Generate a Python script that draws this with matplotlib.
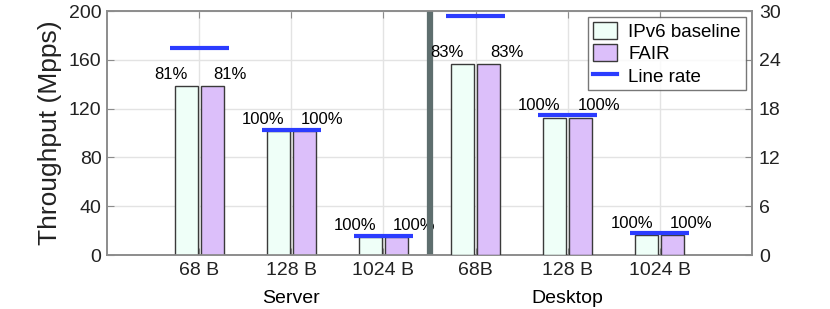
import matplotlib
matplotlib.use("Agg")
from matplotlib import pyplot as plt
from matplotlib.lines import Line2D
from matplotlib.patches import Patch
import numpy as np

plt.rcParams['font.family'] = ['Liberation Sans', 'DejaVu Sans']

# data
server_labels = ['68 B', '128 B', '1024 B']
desktop_labels = ['68B', '128 B', '1024 B']
server_baseline = [138.5, 101.5, 14.5]
server_fair = [138.5, 101.5, 14.5]
server_line_rate = [169.5, 102.7, 15.8]
server_pct = ['81%', '100%', '100%']
desktop_baseline = [23.5, 16.9, 2.45]
desktop_fair = [23.5, 16.9, 2.45]
desktop_line_rate = [29.4, 17.2, 2.7]
desktop_pct = ['83%', '100%', '100%']

c_base = '#effff8'
c_fair = '#dcbffa'
c_line = '#2b3cff'
c_edge = '#3a3a3a'
c_spine = '#8c8c8c'

fig = plt.figure(figsize=(8.3, 3.09), dpi=100)
ax = fig.add_axes([107 / 830, 1 - 255 / 309, 645 / 830, 244 / 309])
ax2 = ax.twinx()

x_server = np.arange(1, 4)
x_desktop = np.arange(4, 7)
w = 0.25
off = 0.14


def draw_group(a, xs, base, fair, rate, pct):
    a.bar(xs - off, base, w, color=c_base, edgecolor=c_edge, linewidth=1, zorder=3)
    a.bar(xs + off, fair, w, color=c_fair, edgecolor=c_edge, linewidth=1, zorder=3)
    a.hlines(rate, xs - 0.32, xs + 0.32, color=c_line, linewidth=3, zorder=4)
    for x, b, f, p in zip(xs, base, fair, pct):
        a.annotate(p, (x - off, b), xytext=(-11, 3), textcoords='offset points',
                   ha='center', va='bottom', fontsize=12, zorder=5)
        a.annotate(p, (x + off, f), xytext=(13, 3), textcoords='offset points',
                   ha='center', va='bottom', fontsize=12, zorder=5)


draw_group(ax, x_server, server_baseline, server_fair, server_line_rate, server_pct)
draw_group(ax2, x_desktop, desktop_baseline, desktop_fair, desktop_line_rate, desktop_pct)

ax.set_xlim(0, 7)
ax.set_ylim(0, 200)
ax2.set_ylim(0, 30)
ax.set_yticks(np.arange(0, 201, 40))
ax2.set_yticks(np.arange(0, 31, 6))
ax.set_xticks(np.concatenate([x_server, x_desktop]))
ax.set_xticklabels(server_labels + desktop_labels)

ax.grid(True, color='#e3e3e3', linewidth=1, zorder=0)
ax.set_axisbelow(True)
ax.axvline(3.5, color='#5e6e6e', linewidth=4.5, zorder=6)

for a in (ax, ax2):
    for s in a.spines.values():
        s.set_color(c_spine)
        s.set_linewidth(1.2)
    a.tick_params(direction='in', length=5, color=c_spine, labelsize=14,
                  labelcolor='#222222')
ax.tick_params(axis='x', top=True, pad=5)
ax.tick_params(axis='y', pad=4)
ax2.tick_params(axis='y', pad=5)

ax.set_ylabel('Throughput (Mpps)', fontsize=19, color='#222222', labelpad=5)

ax.text(2, -0.142, 'Server', transform=ax.get_xaxis_transform(), ha='center',
        va='top', fontsize=14)
ax.text(5, -0.142, 'Desktop', transform=ax.get_xaxis_transform(), ha='center',
        va='top', fontsize=14)

handles = [Patch(facecolor=c_base, edgecolor=c_edge, label='IPv6 baseline'),
           Patch(facecolor=c_fair, edgecolor=c_edge, label='FAIR'),
           Line2D([], [], color=c_line, linewidth=3, label='Line rate')]
leg = ax2.legend(handles=handles, loc='upper right', bbox_to_anchor=(0.99, 0.975),
                 fontsize=13.5, frameon=True, fancybox=False, edgecolor='#555555',
                 borderpad=0.25, labelspacing=0.2, handlelength=1.3,
                 handleheight=1.0, handletextpad=0.6, borderaxespad=0)
leg.get_frame().set_linewidth(1)
leg.set_zorder(10)

fig.savefig('out.png', dpi=100)
